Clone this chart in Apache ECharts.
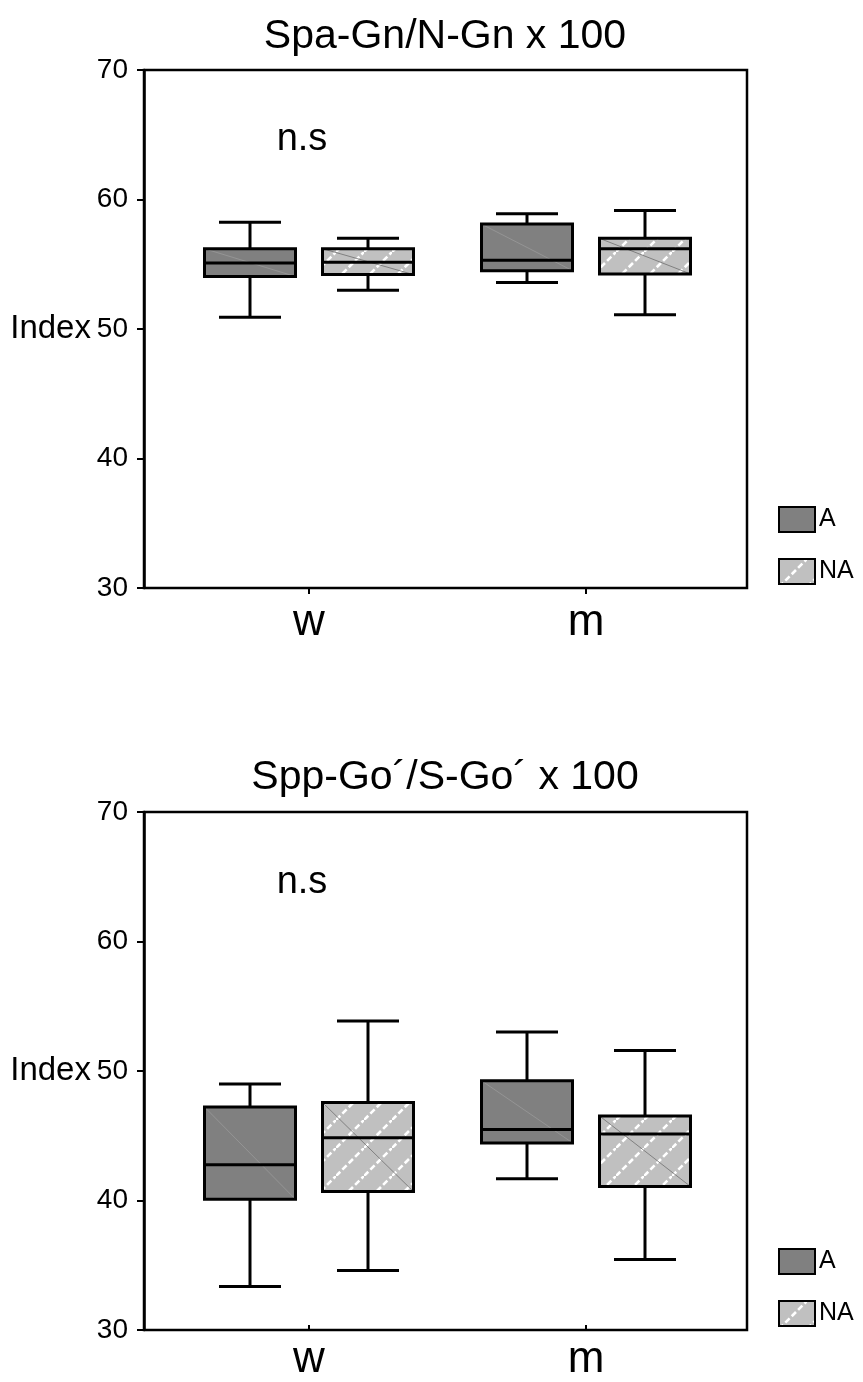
<!DOCTYPE html>
<html><head><meta charset="utf-8">
<script src="https://cdn.jsdelivr.net/npm/echarts@6/dist/echarts.min.js"></script>
<style>html,body{margin:0;padding:0;background:#fff}#c{width:863px;height:1382px}</style>
</head><body><div id="c"></div>
<script>
const categories = ['w', 'm'];
const titles = ['Spa-Gn/N-Gn x 100', 'Spp-Go´/S-Go´ x 100'];
const sigLabel = 'n.s';
const yName = 'Index';
const seriesNames = ['A', 'NA'];
const yMin = 30, yMax = 70, yStep = 10;
// each box: [lower whisker, Q1, median, Q3, upper whisker]
const top_A  = [[50.9, 54.05, 55.1, 56.2, 58.25], [53.6, 54.5, 55.3, 58.1, 58.9]];
const top_NA = [[53.0, 54.2, 55.15, 56.2, 57.0], [51.1, 54.25, 56.2, 57.0, 59.15]];
const bot_A  = [[33.0, 39.8, 42.5, 47.0, 48.8], [41.4, 44.2, 45.25, 49.05, 52.85]];
const bot_NA = [[34.25, 40.4, 44.6, 47.35, 53.7], [35.1, 40.8, 44.9, 46.3, 51.4]];

const FONT = "'Liberation Sans', Arial, sans-serif";

function makePattern() {
  const s = 28;
  const c = document.createElement('canvas');
  c.width = s; c.height = s;
  const g = c.getContext('2d');
  g.fillStyle = '#c0c0c0';
  g.fillRect(0, 0, s, s);
  g.strokeStyle = '#ffffff';
  g.lineWidth = 2.6;
  g.setLineDash([6, 3]);
  g.beginPath(); g.moveTo(0, s); g.lineTo(s, 0); g.stroke();
  return c;
}
const naFill = { image: makePattern(), repeat: 'repeat' };
const aFill = '#808080';

const BOX_W = 91, CAP_W = 62, OFFSET = 59;

function makeRender(side, fill, diagColor) {
  return function (params, api) {
    const ci = api.value(0);
    const vals = [api.value(1), api.value(2), api.value(3), api.value(4), api.value(5)];
    const ys = vals.map(v => api.coord([ci, v])[1]);
    const cx = api.coord([ci, vals[2]])[0] + side * OFFSET;
    const hw = BOX_W / 2, cw = CAP_W / 2;
    const ln = { stroke: '#000', lineWidth: 3 };
    return {
      type: 'group',
      children: [
        { type: 'line', shape: { x1: cx, y1: ys[0], x2: cx, y2: ys[1] }, style: ln },
        { type: 'line', shape: { x1: cx, y1: ys[3], x2: cx, y2: ys[4] }, style: ln },
        { type: 'line', shape: { x1: cx - cw, y1: ys[0], x2: cx + cw, y2: ys[0] }, style: ln },
        { type: 'line', shape: { x1: cx - cw, y1: ys[4], x2: cx + cw, y2: ys[4] }, style: ln },
        { type: 'rect', shape: { x: cx - hw, y: ys[3], width: BOX_W, height: ys[1] - ys[3] }, style: { fill: fill, stroke: null } },
        { type: 'line', shape: { x1: cx - hw, y1: ys[3], x2: cx + hw, y2: ys[1] }, style: { stroke: diagColor, lineWidth: 0.8 } },
        { type: 'rect', shape: { x: cx - hw, y: ys[3], width: BOX_W, height: ys[1] - ys[3] }, style: { fill: null, stroke: '#000', lineWidth: 3 } },
        { type: 'line', shape: { x1: cx - hw, y1: ys[2], x2: cx + hw, y2: ys[2] }, style: ln }
      ]
    };
  };
}

const panels = [
  { top: 70, A: top_A, NA: top_NA, title: titles[0], titleY: 37, nsY: 140, legendTop: 506 },
  { top: 812, A: bot_A, NA: bot_NA, title: titles[1], titleY: 778, nsY: 883, legendTop: 1248 }
];
const plotH = 518;

const grid = [], xAxis = [], yAxis = [], series = [], legend = [], graphic = [];
panels.forEach((p, i) => {
  const gFrame = grid.length;
  grid.push({ left: 144, top: p.top, width: 603, height: plotH, show: true, borderColor: '#000', borderWidth: 2.5, backgroundColor: 'transparent' });
  const gInner = grid.length;
  grid.push({ left: 170.5, top: p.top, width: 554, height: plotH });
  xAxis.push({ gridIndex: gFrame, type: 'category', data: categories, show: false });
  xAxis.push({
    gridIndex: gInner, type: 'category', data: categories,
    axisLine: { show: false },
    axisTick: { show: true, alignWithLabel: true, length: 6, lineStyle: { color: '#000', width: 2 } },
    axisLabel: { color: '#000', fontSize: 44, fontFamily: FONT, margin: 13 },
    splitLine: { show: false }
  });
  yAxis.push({
    gridIndex: gFrame, type: 'value', min: yMin, max: yMax, interval: yStep,
    name: yName, nameLocation: 'middle', nameRotate: 0, nameGap: 51,
    nameTextStyle: { color: '#000', fontSize: 33, fontFamily: FONT, align: 'right', verticalAlign: 'middle' },
    axisLine: { show: true, lineStyle: { color: '#000', width: 2.5 } },
    axisTick: { show: true, length: 7, lineStyle: { color: '#000', width: 2 } },
    axisLabel: { color: '#000', fontSize: 28, fontFamily: FONT, margin: 16, padding: [0, 0, 8, 0] },
    splitLine: { show: false }
  });
  yAxis.push({ gridIndex: gInner, type: 'value', min: yMin, max: yMax, interval: yStep, show: false, splitLine: { show: false } });
  const xi = i * 2 + 1, yi = i * 2 + 1;
  [['A', p.A, aFill, -1, '#999999'], ['NA', p.NA, naFill, 1, '#707070']].forEach(([name, data, fill, side, diag]) => {
    series.push({
      type: 'custom', name, xAxisIndex: xi, yAxisIndex: yi, silent: true,
      data: data.map((d, k) => [k].concat(d)),
      encode: { x: 0, y: [1, 2, 3, 4, 5] },
      itemStyle: { color: fill, borderColor: '#000', borderWidth: 2 },
      renderItem: makeRender(side, fill, diag),
      clip: false
    });
  });
  legend.push({
    orient: 'vertical', left: 778, top: p.legendTop, padding: 0,
    itemWidth: 36, itemHeight: 25, itemGap: 25, icon: 'rect', selectedMode: false,
    data: [
      { name: seriesNames[0], icon: 'rect', itemStyle: { color: aFill, borderColor: '#000', borderWidth: 2 } },
      { name: seriesNames[1], icon: 'rect', itemStyle: { color: naFill, borderColor: '#000', borderWidth: 2 } }
    ],
    textStyle: { color: '#000', fontSize: 25, fontFamily: FONT, padding: [0, 0, 0, -1] }
  });
  graphic.push({ type: 'text', x: 445, y: p.titleY, style: { text: p.title, fill: '#000', font: '41px ' + FONT, align: 'center', verticalAlign: 'middle' } });
  graphic.push({ type: 'text', x: 302, y: p.nsY, style: { text: sigLabel, fill: '#000', font: '38px ' + FONT, align: 'center', verticalAlign: 'middle' } });
});

const chart = echarts.init(document.getElementById('c'), null, { renderer: 'canvas' });
chart.setOption({ animation: false, backgroundColor: '#fff', grid, xAxis, yAxis, series, legend, graphic, tooltip: { show: false } });
</script></body></html>
